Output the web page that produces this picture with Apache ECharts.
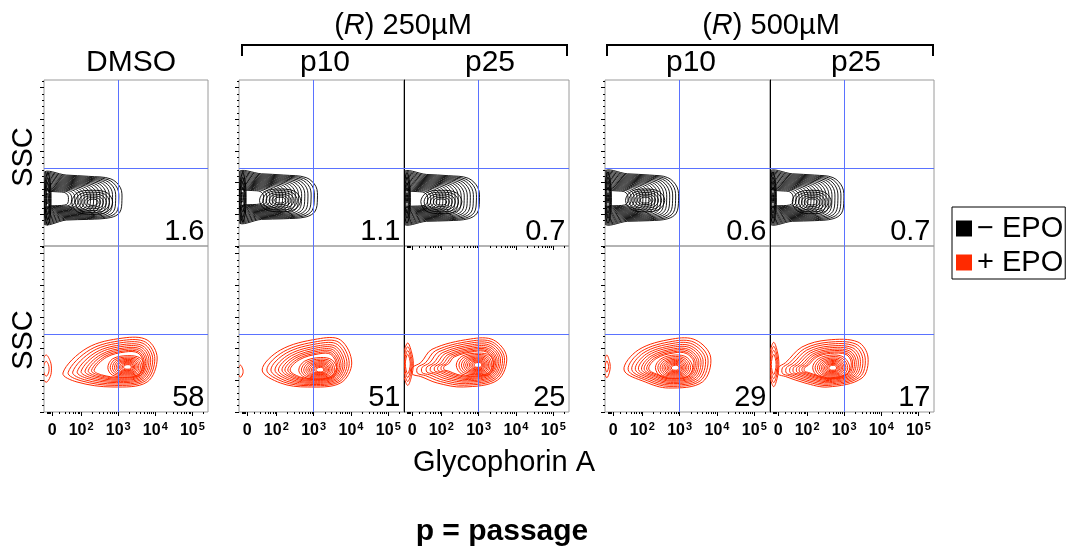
<!DOCTYPE html>
<html><head><meta charset="utf-8">
<script src="https://cdn.jsdelivr.net/npm/echarts@6/dist/echarts.min.js"></script>
<style>html,body{margin:0;padding:0;background:#fff}#c{width:1070px;height:553px}</style>
</head><body><div id="c"></div>
<script>
// Units: x = biexponential display position of Glycophorin A (10^k -> k, value 0 -> 1.22); y = SSC in thousands (0..262.144)
const panelTitles = ['DMSO', 'p10', 'p25', 'p10', 'p25'];
const groupTitles = ['250µM', '500µM'];
const pctMinusEPO = [1.6, 1.1, 0.7, 0.6, 0.7];
const pctPlusEPO = [58, 51, 25, 29, 17];
const xTickPos = [1.22, 2, 3, 4, 5];
const xTickLabels = ['0', '10^2', '10^3', '10^4', '10^5'];
const xLinearMinor = [1.1, 1.12, 1.14, 1.16, 1.42, 1.58, 1.69, 1.78, 1.85, 1.91, 1.96];
const yTickVals = [0, 50, 100, 150, 200, 250];
const gateX = 3;      // 10^3
const gateY = 123;    // SSC gate (K)

// contour levels (relative size of each nested contour)
const blackOuterLevels = [1, .96, .92, .88, .84, .8, .76, .72, .68, .64, .6, .56, .52, .48, .44, .4, .36, .32];
const blackInnerLevels = [1, .84, .68, .53, .39, .26];
const blackEdgeLevels = [1, .8, .6, .4, .2];
const redOuterLevels = [1, .92, .85, .78, .72, .66, .61, .56, .52];
const redInnerLevels = [1, .88, .77, .67, .58, .5, .42, .35, .28, .21];

// − EPO populations (row 1): outer contours anchored at the axis edge, inner loops around the mode
const blackAnchors = [[0.98, 74], [0.98, 76], [0.98, 74], [0.98, 75], [0.98, 75]];
const blackOuter = [
  [[0.98,115],[1.6,112],[2.2,110],[2.8,106],[3.06,92],[3.1,72],[3.04,53],[2.8,45],[2.2,42],[1.6,41],[0.98,36]],
  [[0.98,116],[1.6,114],[2.2,112],[2.8,108],[3.06,94],[3.1,74],[3.04,55],[2.8,46],[2.2,43],[1.6,42],[0.98,38]],
  [[0.98,116],[1.6,113],[2.2,111],[2.72,107],[2.98,92],[3.02,71],[2.96,52],[2.72,43],[2.2,40],[1.6,39],[0.98,36]],
  [[0.98,117],[1.6,114],[2.2,112],[2.68,108],[2.93,93],[2.97,72],[2.91,52],[2.68,43],[2.2,40],[1.6,39],[0.98,36]],
  [[0.98,117],[1.6,114],[2.2,112],[2.7,108],[2.95,93],[2.99,72],[2.93,52],[2.7,43],[2.2,40],[1.6,39],[0.98,36]]
];
const blackCores = [[2.32, 69], [2.1, 72.6], [2.0, 69.5], [2.08, 72.6], [2.13, 69.5]];
const blackInner = [
  [[2.3,88],[2.7,84],[2.85,69],[2.7,54],[2.3,50],[1.9,54],[1.75,69],[1.9,84]],
  [[2.1,90],[2.5,86],[2.65,72],[2.5,58],[2.1,54],[1.7,58],[1.55,72],[1.7,86]],
  [[2.0,88],[2.4,84],[2.55,70],[2.4,55],[2.0,51],[1.6,55],[1.45,70],[1.6,84]],
  [[2.08,90],[2.45,86],[2.6,72],[2.45,58],[2.08,54],[1.7,58],[1.55,72],[1.7,86]],
  [[2.13,88],[2.5,84],[2.65,70],[2.5,55],[2.13,51],[1.75,55],[1.6,70],[1.75,84]]
];
const blackEdgeCores = [[1.1, 75], [1.1, 77], [1.08, 76], [1.08, 76], [1.08, 76]];
const blackEdgeOutlines = [
  [[1.1,116],[1.17,100],[1.19,75],[1.17,48],[1.1,33],[1.03,48],[1.01,75],[1.03,100]],
  [[1.1,116],[1.17,100],[1.19,77],[1.17,52],[1.1,38],[1.03,52],[1.01,77],[1.03,100]],
  [[1.08,116],[1.15,100],[1.17,76],[1.15,50],[1.08,36],[1.01,50],[0.99,76],[1.01,100]],
  [[1.08,117],[1.15,100],[1.17,76],[1.15,50],[1.08,36],[1.01,50],[0.99,76],[1.01,100]],
  [[1.08,117],[1.15,100],[1.17,76],[1.15,50],[1.08,36],[1.01,50],[0.99,76],[1.01,100]]
];

// + EPO populations (row 2)
const redCores = [[3.26, 71], [3.18, 66.3], [3.0, 74.2], [2.89, 69.5], [2.70, 69.5]];
const redOuter = [
  [[1.51,61.6],[2.16,101],[3.13,116.8],[3.78,113.7],[4.05,85.3],[3.78,47.4],[2.86,39.5],[1.89,47.4]],
  [[1.62,66.3],[2.11,97.9],[3.10,115.3],[3.72,113.7],[4.02,77.4],[3.72,45.8],[2.83,39.5],[2.11,45.8]],
  [[1.22,70],[1.45,78],[1.75,99],[2.78,115.3],[3.40,113.7],[3.75,86.8],[3.51,50.5],[2.59,39.5],[1.89,45.8],[1.45,56],[1.22,60]],
  [[1.51,66.3],[1.89,97.9],[2.81,115.3],[3.43,113.7],[3.83,86.8],[3.61,47.4],[2.70,37.9],[2.08,47.4]],
  [[1.22,70],[1.42,78],[1.86,102.6],[2.56,113.7],[3.37,110.5],[3.64,86.8],[3.48,53.7],[2.56,39.5],[1.94,45.8],[1.42,56],[1.22,60]]
];
const redInner = [
  [[3.26,89],[3.6,85],[3.7,71],[3.6,58],[3.26,55],[2.85,58],[2.72,70],[2.85,84]],
  [[3.18,86],[3.5,82],[3.62,66],[3.5,55],[3.18,52],[2.75,55],[2.6,66],[2.75,80]],
  [[3.0,93],[3.3,89],[3.4,74],[3.3,60],[3.0,57],[2.55,60],[2.4,74],[2.55,88]],
  [[2.89,90],[3.2,86],[3.35,70],[3.2,56],[2.89,53],[2.5,56],[2.35,70],[2.5,84]],
  [[2.7,90],[3.0,86],[3.15,70],[3.0,56],[2.7,53],[2.3,56],[2.15,70],[2.3,84]]
];
const redEdgeCores = [[1.06, 68], [1.04, 64], [1.1, 76], [1.05, 72], [1.1, 75]];
const redEdgeOutlines = [
  [[1.06,90],[1.17,80],[1.2,68],[1.17,56],[1.06,47],[0.95,56],[0.92,68],[0.95,80]],
  [[1.04,74],[1.1,68],[1.11,64],[1.1,60],[1.04,55],[0.98,60],[0.97,64],[0.98,68]],
  [[1.1,109],[1.2,95],[1.25,76],[1.2,56],[1.1,42],[1.0,56],[0.96,76],[1.0,95]],
  [[1.05,90],[1.12,80],[1.14,72],[1.12,63],[1.05,54],[0.98,63],[0.96,72],[0.98,80]],
  [[1.1,110],[1.2,95],[1.24,75],[1.2,55],[1.1,40],[1.0,55],[0.96,75],[1.0,95]]
];
const redEdgeLevels = [[1, .55], [1], [1, .82, .64, .46], [1, .5], [1, .82, .64, .46]];

const legendNames = ['\u2212 EPO', '+ EPO'];
</script>
<script>
const FONT = '"Liberation Sans", Arial, Helvetica, sans-serif';
const BLACK = '#000000', RED = '#ff2a00', GATE = '#5a72ff', FRAME = '#9a9a9a';
const xMin = 1.0, xMax = 5.42, yMin = 0, yMax = 262.144;
const colLeft = [44, 239, 404, 605, 770];
const colWidth = [164, 165, 165, 165, 164];
const rowTop = [80, 246];
const rowH = 166;

const xMinor = [];
xLinearMinor.forEach(v => xMinor.push(v));
for (let k = 2; k <= 5; k++) for (let m = 2; m <= 9; m++) { const v = k + Math.log10(m); if (v < xMax) xMinor.push(v); }
const yMinor = [];
for (let v = 10; v < yMax; v += 10) if (v % 50 !== 0) yMinor.push(v);

const grids = [], xAxes = [], yAxes = [], series = [];

function ringSeries(name, color, g, outline, core, levels, lw) {
  return {
    type: 'custom', name, xAxisIndex: 2 * g, yAxisIndex: 2 * g,
    data: levels.map(l => [l, 0]), itemStyle: { color }, silent: true, animation: false, z: 2,
    renderItem(params, api) {
      const l = api.value(0);
      const pts = outline.map(p => api.coord([core[0] + (p[0] - core[0]) * l, core[1] + (p[1] - core[1]) * l]));
      const cs = params.coordSys;
      return {
        type: 'group',
        clipPath: { type: 'rect', shape: { x: cs.x, y: cs.y, width: cs.width, height: cs.height } },
        children: [{ type: 'polygon', shape: { points: pts, smooth: 0.35 }, style: { fill: 'none', stroke: color, lineWidth: lw } }]
      };
    }
  };
}

function xLabelFmt(v) {
  const i = xTickPos.findIndex(t => Math.abs(t - v) < 1e-6);
  const t = i >= 0 ? xTickLabels[i] : '';
  if (t.indexOf('^') >= 0) { const [b, e] = t.split('^'); return '{b|' + b + '}{s|' + e + '}'; }
  return '{b|' + t + '}';
}

for (let r = 0; r < 2; r++) {
  for (let c = 0; c < 5; c++) {
    const g = r * 5 + c;
    grids.push({ left: colLeft[c], top: rowTop[r], width: colWidth[c], height: rowH, show: true,
      borderColor: FRAME, borderWidth: 1, backgroundColor: 'rgba(0,0,0,0)', containLabel: false });
    const showXTicks = r === 1 || c === 2;
    xAxes.push({
      type: 'value', gridIndex: g, min: xMin, max: xMax, position: 'bottom',
      axisLine: { show: false }, splitLine: { show: false },
      axisTick: { show: showXTicks, customValues: xTickPos, length: 4, lineStyle: { color: '#000', width: 1 } },
      axisLabel: { show: r === 1, customValues: xTickPos, formatter: xLabelFmt, margin: 9,
        rich: {
          b: { fontSize: 16, fontWeight: 'bold', fontFamily: FONT, color: '#000', lineHeight: 18, verticalAlign: 'bottom' },
          s: { fontSize: 11, fontWeight: 'bold', fontFamily: FONT, color: '#000', lineHeight: 16, verticalAlign: 'top', padding: [0, 0, 8, 1] }
        } }
    });
    xAxes.push({
      type: 'value', gridIndex: g, min: xMin, max: xMax, position: 'bottom',
      axisLine: { show: false }, splitLine: { show: false }, axisLabel: { show: false },
      axisTick: { show: showXTicks, customValues: xMinor, length: 2, lineStyle: { color: '#000', width: 1 } }
    });
    const sep = c === 2 || c === 4;
    yAxes.push({
      type: 'value', gridIndex: g, min: yMin, max: yMax, position: 'left',
      axisLine: { show: sep, lineStyle: { color: '#000', width: 1 } }, splitLine: { show: false },
      axisLabel: { show: false },
      axisTick: { show: !sep, customValues: yTickVals, length: 4, lineStyle: { color: '#000', width: 1 } }
    });
    yAxes.push({
      type: 'value', gridIndex: g, min: yMin, max: yMax, position: 'left',
      axisLine: { show: false }, splitLine: { show: false }, axisLabel: { show: false },
      axisTick: { show: !sep, customValues: yMinor, length: 2, lineStyle: { color: '#000', width: 1 } }
    });

    if (r === 0) {
      series.push(ringSeries(legendNames[0], BLACK, g, blackOuter[c], blackAnchors[c], blackOuterLevels, 0.9));
      series.push(ringSeries(legendNames[0], BLACK, g, blackInner[c], blackCores[c], blackInnerLevels, 0.9));
      series.push(ringSeries(legendNames[0], BLACK, g, blackEdgeOutlines[c], blackEdgeCores[c], blackEdgeLevels, 1));
    } else {
      series.push(ringSeries(legendNames[1], RED, g, redOuter[c], redCores[c], redOuterLevels, 1));
      series.push(ringSeries(legendNames[1], RED, g, redInner[c], redCores[c], redInnerLevels, 1));
      series.push(ringSeries(legendNames[1], RED, g, redEdgeOutlines[c], redEdgeCores[c], redEdgeLevels[c], 1));
    }
    const pct = r === 0 ? pctMinusEPO[c] : pctPlusEPO[c];
    series.push({
      type: 'scatter', name: 'pct', xAxisIndex: 2 * g, yAxisIndex: 2 * g, clip: false, silent: true, animation: false,
      symbol: 'rect', symbolSize: 1, itemStyle: { color: 'rgba(255,255,255,0)', opacity: 1 }, z: 5,
      data: [[xMax, yMin, pct]],
      label: { show: true, position: [0, 0], align: 'right', verticalAlign: 'bottom', offset: [-3, 1],
        formatter: p => String(p.value[2]), fontSize: 29, fontFamily: FONT, color: '#000', opacity: 1, lineHeight: 29 },
      markLine: { silent: true, animation: false, symbol: ['none', 'none'], label: { show: false },
        lineStyle: { color: GATE, width: 1, type: 'solid', opacity: 1 }, emphasis: { disabled: true },
        data: [{ xAxis: gateX }, { yAxis: gateY }] }
    });
  }
}

const txt = (x, y, text, size, extra) => ({ type: 'text', x, y, silent: true,
  style: Object.assign({ text, fontSize: size, fontFamily: FONT, fill: '#000', align: 'center', verticalAlign: 'middle' }, extra || {}) });
const rich = { i: { fontStyle: 'italic', fontSize: 29, fontFamily: FONT, fill: '#000' } };

const graphic = [
  txt(131, 63, panelTitles[0], 30),
  txt(325, 63, panelTitles[1], 30), txt(490, 63, panelTitles[2], 30),
  txt(691, 63, panelTitles[3], 30), txt(856, 63, panelTitles[4], 30),
  txt(403, 26, '({i|R}) ' + groupTitles[0], 29, { rich }),
  txt(771, 26, '({i|R}) ' + groupTitles[1], 29, { rich }),
  { type: 'polyline', silent: true, shape: { points: [[242, 56], [242, 45], [567, 45], [567, 56]] }, style: { stroke: '#000', lineWidth: 2, fill: 'none' } },
  { type: 'polyline', silent: true, shape: { points: [[607, 56], [607, 45], [933, 45], [933, 56]] }, style: { stroke: '#000', lineWidth: 2, fill: 'none' } },
  Object.assign(txt(24, 157, 'SSC', 29), { rotation: Math.PI / 2 }),
  Object.assign(txt(24, 340, 'SSC', 29), { rotation: Math.PI / 2 }),
  txt(504, 463, 'Glycophorin A', 29),
  txt(502, 532, 'p = passage', 30, { fontWeight: 'bold' })
];

const chart = echarts.init(document.getElementById('c'), null, { renderer: 'canvas' });
chart.setOption({
  animation: false,
  backgroundColor: '#fff',
  grid: grids, xAxis: xAxes, yAxis: yAxes, series,
  legend: {
    data: legendNames.map(n => ({ name: n, icon: 'rect' })),
    orient: 'vertical', left: 952, top: 207, padding: [7, 2, 2, 4], itemGap: 5,
    itemWidth: 16, itemHeight: 16, selectedMode: false,
    borderColor: '#000', borderWidth: 1,
    textStyle: { fontSize: 29, fontFamily: FONT, color: '#000' }
  },
  graphic
});
</script>
</body></html>
